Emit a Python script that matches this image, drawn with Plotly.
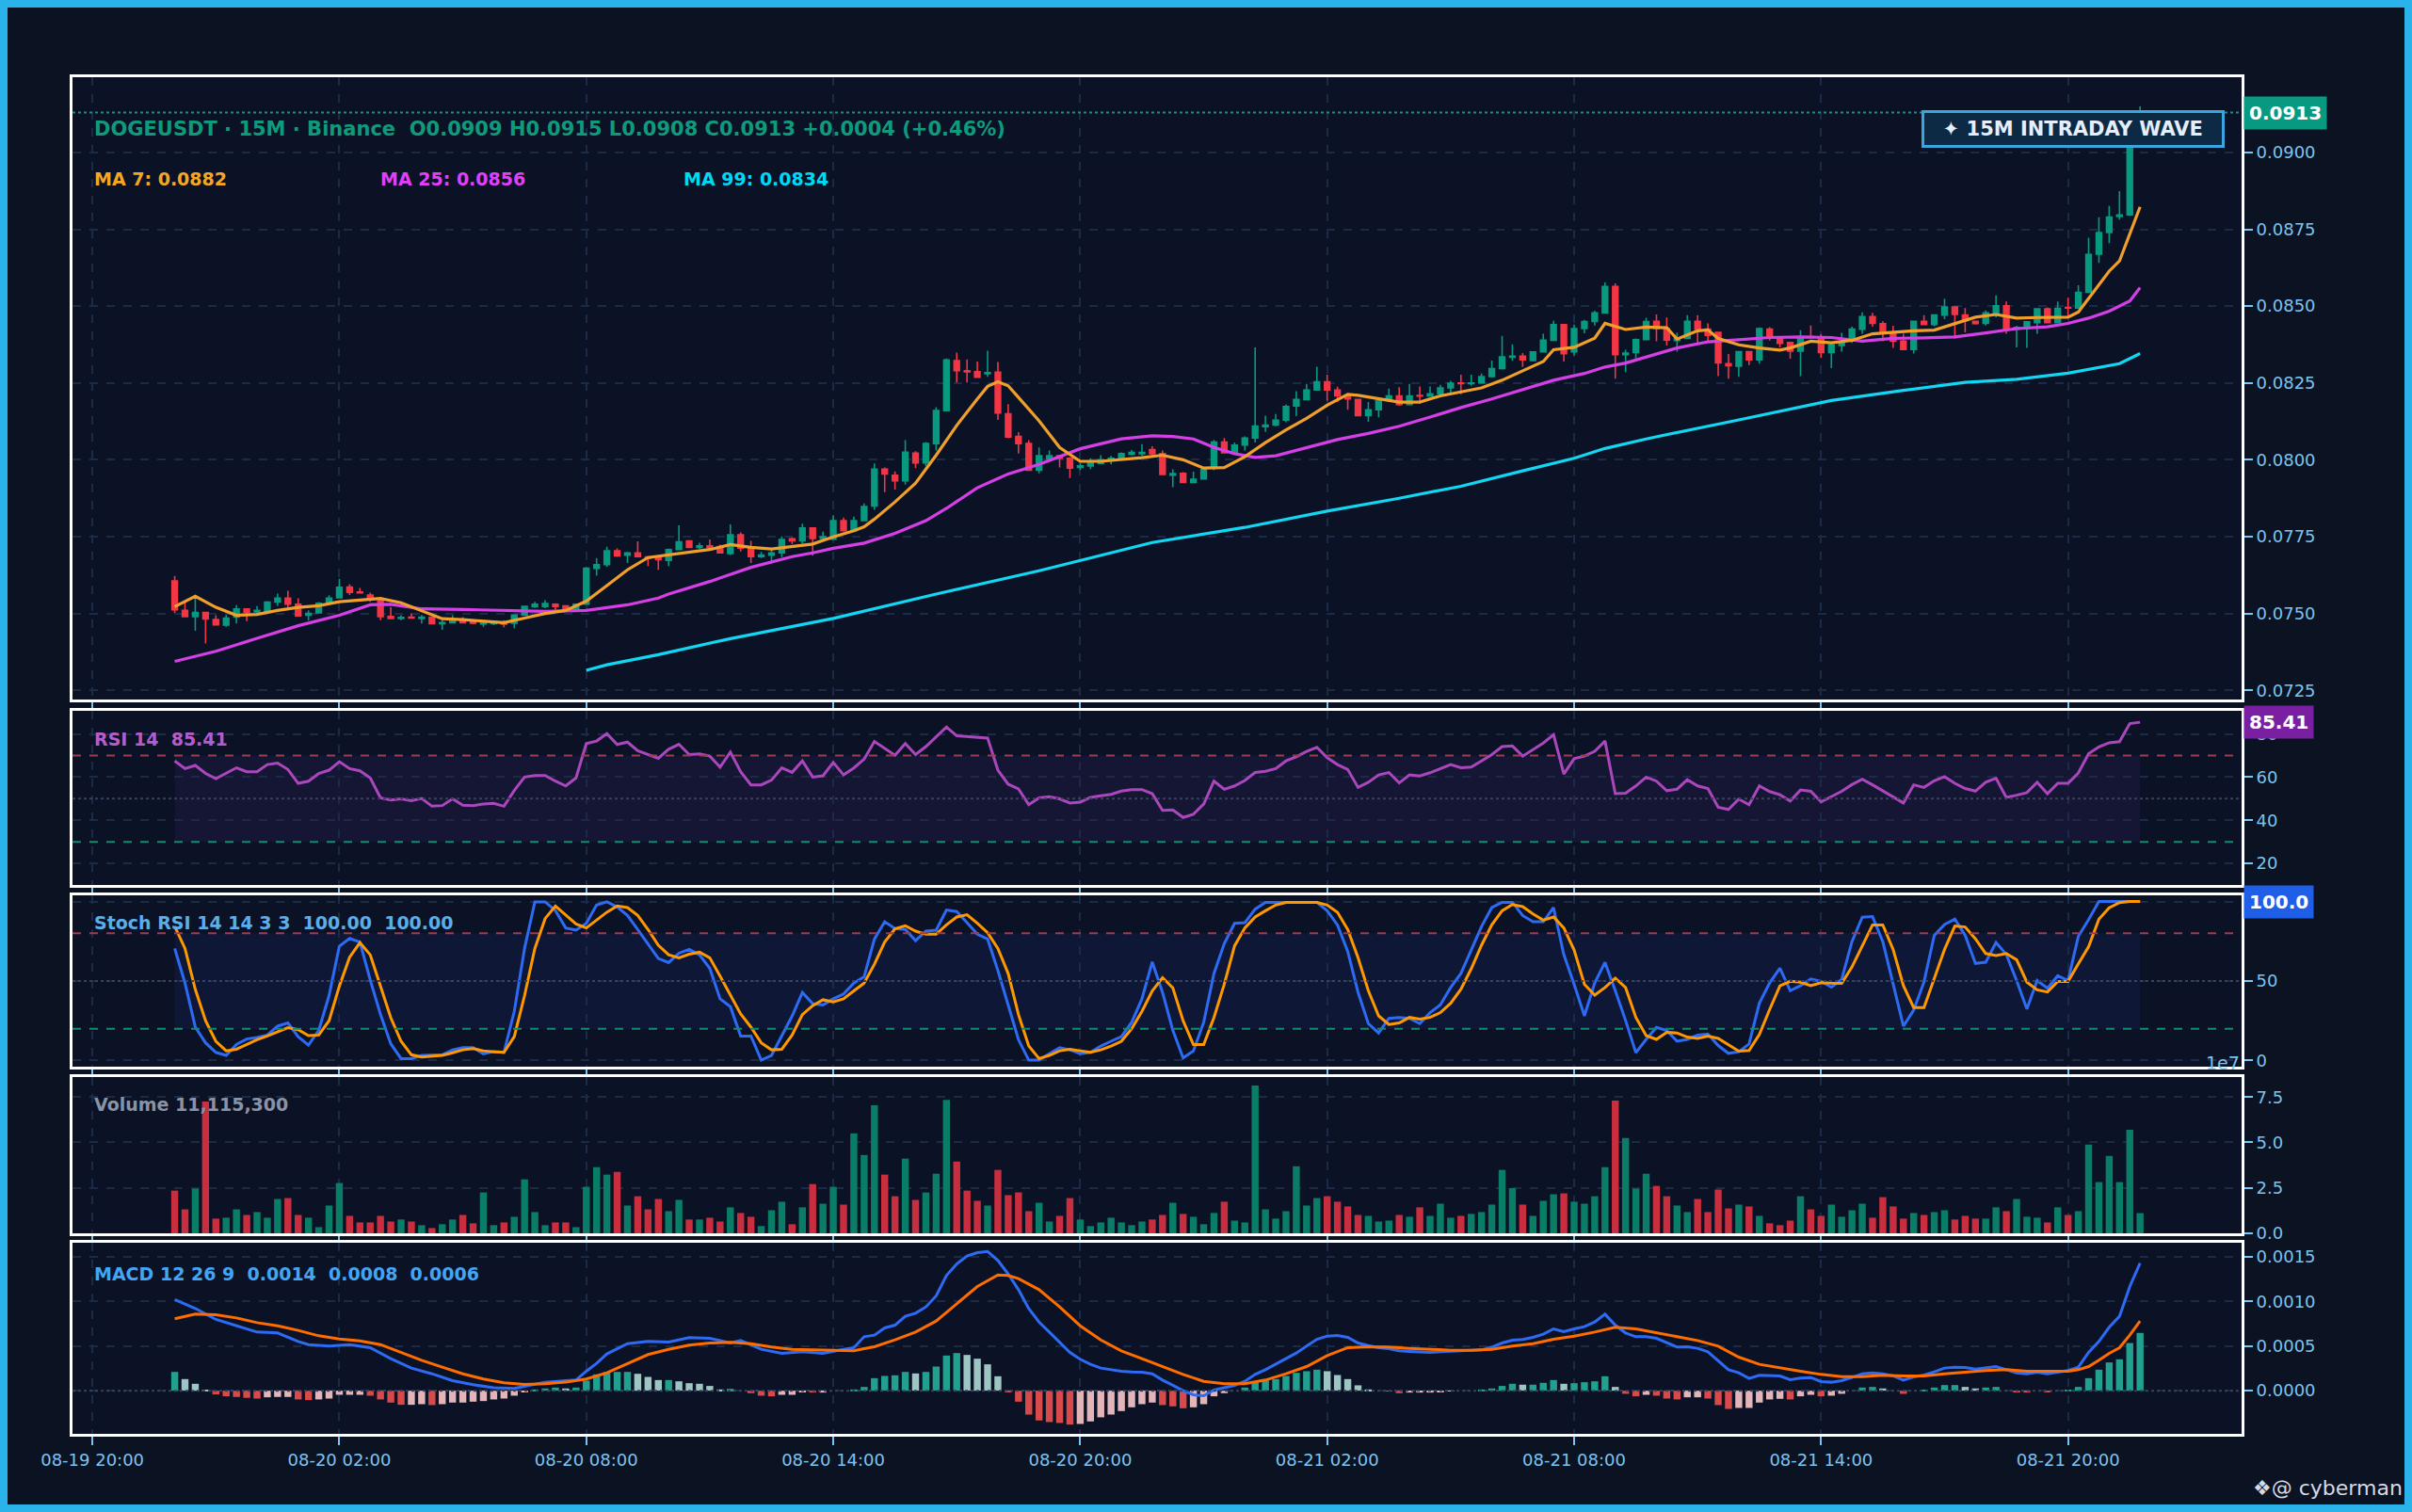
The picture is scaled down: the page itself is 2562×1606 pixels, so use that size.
import pandas as pd
import plotly.graph_objects as go
from plotly.subplots import make_subplots

# ---------------- data ----------------
start_time = "2024-08-19 22:00"
n_candles = 192
times = pd.date_range(start_time, periods=n_candles, freq="15min")

opens = [0.07606,0.07510,0.07490,0.07503,0.07480,0.07462,0.07488,0.07515,0.07505,0.07507,
 0.07537,0.07550,0.07530,0.07494,0.07502,0.07535,0.07551,0.07586,0.07570,0.07560,
 0.07545,0.07490,0.07484,0.07488,0.07484,0.07488,0.07467,0.07470,0.07480,0.07473,
 0.07466,0.07467,0.07472,0.07468,0.07495,0.07522,0.07523,0.07530,0.07525,0.07514,
 0.07530,0.07647,0.07659,0.07704,0.07690,0.07697,0.07684,0.07680,0.07673,0.07708,
 0.07736,0.07715,0.07720,0.07718,0.07695,0.07756,0.07713,0.07685,0.07690,0.07697,
 0.07743,0.07736,0.07778,0.07744,0.07742,0.07802,0.07769,0.07802,0.07850,0.07970,
 0.07950,0.07932,0.08022,0.07990,0.08053,0.08160,0.08323,0.08290,0.08287,0.08280,
 0.08285,0.08150,0.08076,0.08053,0.07966,0.08003,0.08013,0.08005,0.07975,0.07980,
 0.07988,0.08000,0.08005,0.08018,0.08020,0.08033,0.08020,0.07950,0.07956,0.07926,
 0.07938,0.07975,0.08058,0.08023,0.08048,0.08071,0.08108,0.08113,0.08129,0.08175,
 0.08196,0.08227,0.08254,0.08227,0.08208,0.08196,0.08144,0.08163,0.08193,0.08208,
 0.08180,0.08209,0.08207,0.08215,0.08234,0.08250,0.08248,0.08250,0.08271,0.08297,
 0.08334,0.08337,0.08323,0.08351,0.08389,0.08440,0.08351,0.08427,0.08450,0.08478,
 0.08564,0.08342,0.08349,0.08391,0.08451,0.08427,0.08388,0.08395,0.08451,0.08425,
 0.08415,0.08313,0.08305,0.08352,0.08325,0.08425,0.08400,0.08382,0.08354,0.08401,
 0.08398,0.08349,0.08372,0.08395,0.08425,0.08466,0.08443,0.08415,0.08386,0.08359,
 0.08451,0.08440,0.08471,0.08497,0.08471,0.08451,0.08444,0.08476,0.08501,0.08425,
 0.08429,0.08446,0.08491,0.08446,0.08496,0.08494,0.08545,0.08669,0.08740,0.08792,
 0.08797,0.09090]
highs = [0.07622,0.07540,0.07548,0.07505,0.07494,0.07495,0.07527,0.07516,0.07524,0.07540,
 0.07565,0.07574,0.07549,0.07510,0.07537,0.07559,0.07613,0.07595,0.07583,0.07568,
 0.07550,0.07520,0.07494,0.07500,0.07495,0.07490,0.07480,0.07494,0.07488,0.07480,
 0.07472,0.07473,0.07478,0.07497,0.07525,0.07538,0.07543,0.07533,0.07527,0.07532,
 0.07651,0.07680,0.07717,0.07712,0.07700,0.07735,0.07686,0.07682,0.07711,0.07787,
 0.07738,0.07730,0.07741,0.07724,0.07790,0.07764,0.07736,0.07700,0.07708,0.07751,
 0.07748,0.07792,0.07780,0.07766,0.07820,0.07812,0.07815,0.07858,0.07988,0.07975,
 0.07962,0.08064,0.08028,0.08058,0.08171,0.08330,0.08349,0.08327,0.08320,0.08355,
 0.08318,0.08181,0.08090,0.08064,0.08040,0.08030,0.08015,0.08008,0.07990,0.08005,
 0.08015,0.08013,0.08024,0.08032,0.08051,0.08044,0.08030,0.07969,0.07960,0.07961,
 0.07970,0.08065,0.08071,0.08056,0.08076,0.08366,0.08144,0.08149,0.08180,0.08223,
 0.08247,0.08303,0.08277,0.08238,0.08210,0.08198,0.08188,0.08196,0.08232,0.08236,
 0.08247,0.08239,0.08239,0.08244,0.08257,0.08277,0.08277,0.08281,0.08323,0.08403,
 0.08376,0.08347,0.08353,0.08410,0.08452,0.08442,0.08440,0.08455,0.08485,0.08577,
 0.08574,0.08358,0.08395,0.08462,0.08473,0.08463,0.08413,0.08471,0.08471,0.08444,
 0.08417,0.08344,0.08354,0.08354,0.08431,0.08432,0.08401,0.08384,0.08422,0.08437,
 0.08409,0.08377,0.08413,0.08433,0.08480,0.08478,0.08451,0.08436,0.08410,0.08453,
 0.08471,0.08474,0.08524,0.08499,0.08494,0.08453,0.08486,0.08535,0.08515,0.08436,
 0.08451,0.08494,0.08496,0.08515,0.08527,0.08568,0.08723,0.08789,0.08826,0.08874,
 0.09100,0.09150]
lows = [0.07502,0.07488,0.07444,0.07402,0.07462,0.07457,0.07467,0.07475,0.07495,0.07500,
 0.07525,0.07520,0.07490,0.07477,0.07500,0.07533,0.07549,0.07560,0.07566,0.07538,
 0.07478,0.07482,0.07478,0.07484,0.07467,0.07466,0.07447,0.07468,0.07468,0.07465,
 0.07457,0.07462,0.07455,0.07452,0.07493,0.07518,0.07517,0.07510,0.07511,0.07512,
 0.07528,0.07623,0.07652,0.07684,0.07664,0.07684,0.07654,0.07642,0.07654,0.07706,
 0.07713,0.07710,0.07712,0.07695,0.07690,0.07702,0.07664,0.07680,0.07662,0.07683,
 0.07726,0.07726,0.07688,0.07740,0.07740,0.07767,0.07765,0.07800,0.07837,0.07895,
 0.07903,0.07919,0.07973,0.07980,0.08030,0.08158,0.08252,0.08252,0.08267,0.08270,
 0.08130,0.08070,0.08020,0.07964,0.07956,0.08000,0.07975,0.07941,0.07967,0.07970,
 0.07986,0.07985,0.08003,0.08014,0.08013,0.08008,0.07950,0.07911,0.07924,0.07924,
 0.07936,0.07966,0.08020,0.08020,0.08030,0.08056,0.08091,0.08109,0.08122,0.08142,
 0.08194,0.08225,0.08193,0.08188,0.08163,0.08142,0.08124,0.08138,0.08190,0.08176,
 0.08178,0.08183,0.08205,0.08212,0.08218,0.08213,0.08241,0.08248,0.08268,0.08294,
 0.08322,0.08302,0.08320,0.08349,0.08387,0.08320,0.08340,0.08412,0.08437,0.08476,
 0.08264,0.08285,0.08330,0.08389,0.08386,0.08372,0.08352,0.08393,0.08380,0.08382,
 0.08272,0.08264,0.08270,0.08308,0.08313,0.08388,0.08366,0.08329,0.08272,0.08395,
 0.08331,0.08298,0.08352,0.08380,0.08410,0.08433,0.08386,0.08364,0.08357,0.08346,
 0.08438,0.08435,0.08458,0.08395,0.08415,0.08440,0.08437,0.08464,0.08410,0.08366,
 0.08364,0.08410,0.08444,0.08444,0.08466,0.08492,0.08543,0.08641,0.08705,0.08782,
 0.08794,0.09080]
closes = [0.07512,0.07490,0.07503,0.07482,0.07463,0.07485,0.07515,0.07504,0.07510,0.07537,
 0.07550,0.07530,0.07492,0.07500,0.07533,0.07550,0.07585,0.07569,0.07567,0.07545,
 0.07490,0.07484,0.07487,0.07485,0.07488,0.07467,0.07470,0.07480,0.07470,0.07468,
 0.07470,0.07470,0.07465,0.07495,0.07523,0.07530,0.07532,0.07523,0.07513,0.07530,
 0.07647,0.07659,0.07704,0.07687,0.07697,0.07685,0.07680,0.07675,0.07708,0.07733,
 0.07715,0.07720,0.07715,0.07697,0.07756,0.07713,0.07685,0.07690,0.07697,0.07741,
 0.07736,0.07778,0.07744,0.07750,0.07802,0.07769,0.07802,0.07848,0.07970,0.07954,
 0.07932,0.08025,0.07990,0.08053,0.08160,0.08325,0.08290,0.08286,0.08269,0.08284,
 0.08152,0.08074,0.08053,0.07966,0.08013,0.08013,0.08005,0.07973,0.07980,0.07990,
 0.08000,0.08005,0.08020,0.08024,0.08024,0.08020,0.07952,0.07955,0.07926,0.07937,
 0.07968,0.08058,0.08023,0.08048,0.08071,0.08110,0.08113,0.08129,0.08173,0.08196,
 0.08227,0.08254,0.08227,0.08208,0.08198,0.08144,0.08163,0.08193,0.08208,0.08180,
 0.08208,0.08207,0.08215,0.08234,0.08249,0.08248,0.08250,0.08271,0.08297,0.08335,
 0.08337,0.08325,0.08351,0.08389,0.08440,0.08345,0.08427,0.08450,0.08478,0.08564,
 0.08342,0.08347,0.08391,0.08450,0.08427,0.08390,0.08395,0.08451,0.08425,0.08405,
 0.08315,0.08306,0.08352,0.08325,0.08427,0.08403,0.08379,0.08354,0.08400,0.08398,
 0.08349,0.08374,0.08381,0.08425,0.08466,0.08444,0.08415,0.08386,0.08359,0.08451,
 0.08440,0.08471,0.08497,0.08473,0.08453,0.08443,0.08478,0.08501,0.08425,0.08431,
 0.08449,0.08491,0.08446,0.08493,0.08494,0.08545,0.08668,0.08739,0.08790,0.08797,
 0.09090,0.09130]

ma7_idx = [0,2,4,6,8,10,12,14,16,18,20,22,24,26,28,30,32,34,36,38,40,42,44,46,48,50,52,54,56,58,
 60,62,64,66,67,68,70,72,74,76,78,79,80,81,82,84,86,88,90,92,94,96,98,100,102,104,106,108,110,112,
 114,115,117,119,121,123,125,127,129,131,133,134,136,138,139,141,143,145,146,148,149,150,152,154,156,157,159,161,163,165,
 167,169,171,173,175,177,179,181,183,184,185,186,187,188,189,190,191]
ma7_val = [0.07522,0.07556,0.07520,0.07494,0.07497,0.07510,0.07520,0.07525,0.07538,0.07543,0.07549,0.07535,0.07510,0.07483,0.07480,0.07474,0.07470,0.07485,0.07500,0.07510,0.07540,0.07591,0.07642,0.07682,0.07690,0.07700,0.07708,0.07724,0.07715,0.07710,
 0.07718,0.07726,0.07749,0.07769,0.07782,0.07807,0.07863,0.07924,0.08015,0.08112,0.08198,0.08239,0.08254,0.08241,0.08203,0.08127,0.08040,0.07995,0.07995,0.08000,0.08007,0.08015,0.08000,0.07973,0.07975,0.08010,0.08056,0.08097,0.08135,0.08178,
 0.08213,0.08210,0.08198,0.08188,0.08188,0.08208,0.08221,0.08234,0.08259,0.08290,0.08320,0.08358,0.08366,0.08396,0.08444,0.08424,0.08432,0.08430,0.08393,0.08420,0.08423,0.08395,0.08374,0.08364,0.08357,0.08364,0.08386,0.08381,0.08389,0.08410,
 0.08415,0.08420,0.08422,0.08444,0.08464,0.08473,0.08461,0.08463,0.08464,0.08464,0.08481,0.08525,0.08571,0.08614,0.08647,0.08736,0.08823]
ma25_idx = [0,4,8,12,16,19,21,24,28,32,36,40,44,47,48,52,56,60,62,64,67,70,73,75,78,81,84,88,92,95,
 97,99,101,103,105,107,110,113,116,119,122,125,128,131,134,137,139,141,143,146,149,152,155,158,161,164,167,170,173,176,
 179,182,184,186,188,190,191]
ma25_val = [0.07344,0.07377,0.07419,0.07460,0.07494,0.07528,0.07530,0.07515,0.07513,0.07510,0.07507,0.07510,0.07528,0.07550,0.07563,0.07604,0.07650,0.07685,0.07697,0.07712,0.07729,0.07761,0.07802,0.07842,0.07909,0.07954,0.07985,0.08036,0.08068,0.08078,
 0.08076,0.08068,0.08040,0.08020,0.08008,0.08013,0.08040,0.08066,0.08086,0.08109,0.08139,0.08170,0.08198,0.08229,0.08259,0.08281,0.08302,0.08315,0.08335,0.08364,0.08384,0.08390,0.08398,0.08400,0.08398,0.08386,0.08395,0.08397,0.08400,0.08413,
 0.08427,0.08433,0.08444,0.08461,0.08484,0.08517,0.08560]
ma99_idx = [40,42,47,54,64,74,84,95,104,112,119,125,131,136,139,143,152,161,168,174,179,184,189,191]
ma99_val = [0.07315,0.07333,0.07366,0.07418,0.07484,0.07563,0.07639,0.07731,0.07780,0.07833,0.07875,0.07914,0.07964,0.08005,0.08037,0.08068,0.08130,0.08193,0.08226,0.08252,0.08262,0.08282,0.08313,0.08346]

rsi = [67.5,63.9,65.4,61.7,59.3,61.7,64.3,62.5,62.5,65.8,
 66.5,63.5,57.1,58.1,61.7,63.2,67.1,63.9,62.9,59.6,
 50.4,49.4,49.9,49.1,50.1,46.5,46.8,49.9,47.0,46.8,
 47.5,47.8,46.5,53.8,60.0,60.7,60.7,58.1,55.9,59.6,
 75.5,76.7,80.1,75.1,76.2,72.2,70.4,68.7,72.9,75.2,
 70.4,70.7,69.7,64.6,71.6,62.5,56.4,56.4,58.6,64.3,
 62.2,67.5,60.0,60.6,66.8,61.0,64.2,68.3,76.5,73.3,
 70.1,75.5,70.4,74.1,78.8,83.2,79.1,78.8,78.4,78.1,
 63.2,56.7,54.5,47.2,50.4,50.9,49.9,48.0,48.4,50.6,
 51.3,52.0,53.5,54.2,54.2,52.3,44.6,44.8,41.3,42.8,
 47.5,58.1,54.3,55.9,58.4,62.1,62.7,63.9,67.5,69.4,
 71.9,73.8,69.0,65.8,63.5,55.2,57.6,61.0,62.1,57.3,
 61.0,60.5,62.0,63.9,65.8,64.3,64.6,67.5,70.4,74.1,
 74.4,69.7,72.6,75.8,79.6,61.4,68.5,69.7,71.9,76.7,
 52.3,52.5,55.9,60.0,58.1,53.7,54.4,58.8,55.9,54.7,
 46.0,45.0,49.8,47.2,55.9,53.3,51.8,48.9,54.0,53.4,
 48.5,51.0,53.4,56.5,59.0,56.4,53.5,50.6,48.0,56.4,
 55.2,58.3,60.2,57.1,54.7,53.5,57.6,59.5,50.6,51.6,
 52.8,57.6,52.3,57.1,57.1,61.9,70.8,74.0,75.9,76.4,
 84.8,85.41]

stoch_k = [70.5,48.7,21.0,11.1,5.1,3.2,10.1,13.5,14.5,16.0,
 21.6,23.6,15.0,9.7,19.0,40.8,71.9,76.8,74.5,50.7,
 28.9,10.5,1.2,1.2,3.2,3.2,3.6,6.7,8.1,8.1,
 4.2,5.7,5.1,30.9,70.5,99.8,99.8,94.3,83.4,82.0,
 86.3,97.8,99.8,96.6,91.3,82.4,73.5,64.2,61.6,67.5,
 69.9,66.5,58.0,38.8,33.9,15.4,15.4,0.2,3.2,16.0,
 27.9,42.8,35.8,34.9,38.8,41.8,48.7,52.7,76.4,87.3,
 83.0,82.4,75.4,81.4,82.0,94.7,93.7,86.7,79.4,76.4,
 56.6,34.9,13.1,0.2,0.2,4.2,8.1,6.7,4.2,5.1,
 9.1,12.1,15.0,24.0,38.8,62.0,42.8,19.0,1.6,6.0,
 24.0,54.8,73.5,86.3,86.7,95.2,99.5,99.5,99.5,99.5,
 99.5,99.5,94.2,85.3,68.6,42.9,23.2,17.3,26.5,27.1,
 26.5,23.2,30.1,35.0,45.9,54.8,69.5,84.3,96.2,99.5,
 99.5,91.2,87.3,87.3,96.2,66.6,47.9,28.1,48.8,61.7,
 43.9,25.2,4.9,13.3,20.8,18.9,12.1,13.3,15.9,16.7,
 9.4,4.5,5.5,10.4,36.0,48.8,58.1,43.9,47.1,51.3,
 49.7,46.1,51.0,74.8,90.2,90.5,74.8,48.7,21.6,31.7,
 49.3,78.8,85.6,88.9,78.8,61.1,61.8,74.2,66.7,50.3,
 32.4,50.3,45.4,53.3,50.3,78.1,88.6,100.0,100.0,100.0,
 100.0,100.0]
stoch_d = [84.4,70.5,44.8,25.0,12.1,6.1,7.1,10.1,13.1,15.4,
 18.0,20.6,19.4,15.6,16.0,25.0,46.7,65.0,74.1,66.5,
 46.7,26.9,12.1,3.6,2.2,2.6,3.2,4.8,6.7,7.5,
 6.1,5.5,5.1,15.0,40.8,70.5,89.3,97.2,91.3,85.9,
 83.4,88.3,93.3,97.2,96.2,91.3,82.4,72.5,66.5,64.6,
 66.9,68.1,64.6,53.1,40.8,29.3,21.0,11.1,6.7,7.1,
 16.0,28.9,34.5,38.2,36.8,38.8,43.8,48.7,60.6,74.5,
 82.8,84.8,81.4,79.4,79.4,85.3,90.3,91.7,86.3,80.4,
 70.5,54.7,28.9,9.1,1.2,3.2,6.1,7.1,6.1,5.1,
 6.7,9.1,12.1,20.0,30.9,43.8,52.1,45.7,25.0,10.0,
 10.0,27.1,48.0,72.1,83.4,90.3,94.2,97.8,99.5,99.5,
 99.5,99.5,97.8,93.2,82.4,64.6,43.9,28.1,22.6,23.6,
 27.1,26.0,27.1,30.1,36.0,44.9,57.7,72.5,85.3,94.2,
 98.1,96.8,92.2,88.3,90.3,83.4,69.5,47.9,41.1,45.9,
 51.8,45.9,27.1,15.7,13.3,17.7,17.3,14.7,13.9,15.3,
 13.9,9.8,5.9,6.3,16.3,32.1,46.9,49.8,49.2,47.1,
 49.0,48.6,48.5,58.8,71.6,85.3,85.3,69.9,47.1,33.3,
 33.3,52.0,69.9,84.6,84.0,76.5,67.3,66.0,67.3,63.4,
 49.3,44.4,43.1,49.7,49.7,60.8,71.6,88.9,96.1,99.3,
 100.0,100.0]

# volume in units of 1e7
volume = [2.35,1.32,2.46,7.25,0.81,0.86,1.32,1.01,1.17,0.86,
 1.89,1.94,1.01,0.86,0.34,1.53,2.77,0.96,0.60,0.60,
 0.96,0.65,0.76,0.65,0.45,0.29,0.50,0.76,1.01,0.55,
 2.25,0.45,0.60,0.91,2.97,1.17,0.45,0.60,0.60,0.34,
 2.56,3.64,3.23,3.38,1.53,2.04,1.32,1.89,1.22,1.84,
 0.76,0.76,0.86,0.65,1.43,1.12,0.91,0.40,1.27,1.74,
 0.50,1.43,2.71,1.63,2.56,1.58,5.50,4.31,7.04,3.23,
 2.04,4.11,1.84,2.25,3.28,7.35,3.95,2.35,1.79,1.53,
 3.49,2.10,2.25,1.22,1.68,0.65,0.96,1.94,0.76,0.40,
 0.60,0.86,0.60,0.45,0.65,0.76,1.01,1.68,1.07,0.91,
 0.50,1.12,1.74,0.70,0.60,8.13,1.32,0.81,1.22,3.69,
 1.53,1.94,2.04,1.74,1.48,1.01,0.96,0.65,0.70,1.01,
 0.91,1.43,0.96,1.63,0.86,0.96,1.07,1.17,1.58,3.49,
 2.49,1.58,0.96,1.79,2.15,2.20,1.74,1.63,2.04,3.64,
 7.30,5.24,2.46,3.28,2.61,2.04,1.53,1.17,1.89,1.17,
 2.41,1.37,1.58,1.48,0.96,0.55,0.45,0.70,2.04,1.32,
 0.96,1.58,0.91,1.27,1.63,0.86,1.99,1.48,0.81,1.12,
 1.01,1.17,1.27,0.76,0.96,0.81,0.81,1.43,1.22,1.89,
 0.91,0.86,0.60,1.43,1.01,1.22,4.88,2.82,4.26,2.82,
 5.70,1.11153]

macd_idx = [0,2,4,6,8,10,12,13,15,17,19,21,23,25,27,29,31,33,34,36,38,39,40,41,42,44,46,48,50,52,
 54,55,57,59,61,63,65,66,67,68,69,70,71,72,73,74,75,76,77,78,79,80,81,82,83,84,85,86,87,88,
 89,90,91,92,93,94,95,96,97,98,99,100,101,102,103,104,105,106,107,108,109,110,111,112,113,114,115,116,117,118,
 119,120,121,122,123,124,125,126,127,128,129,130,131,132,133,134,135,136,137,138,139,140,141,142,143,144,145,146,147,148,
 149,150,151,152,153,154,155,156,157,158,159,160,161,162,163,164,165,166,167,168,169,170,171,172,173,174,175,176,177,178,
 179,180,181,182,183,184,185,186,187,188,189,190,191]
macd_val = [0.001018,0.00092,0.000797,0.000726,0.000656,0.000646,0.000551,0.000516,0.000498,0.000516,0.000481,0.000358,0.000253,0.000189,0.000112,0.000067,0.000032,0.000025,0.000049,0.000095,0.000112,0.000119,0.000218,0.000305,0.000411,0.000526,0.000551,0.000544,0.000593,0.000586,
 0.000533,0.000561,0.000463,0.000418,0.000435,0.000418,0.000463,0.000481,0.000604,0.000621,0.000702,0.000733,0.000832,0.000867,0.000937,0.00106,0.001288,0.001418,0.001506,0.001544,0.001558,0.001456,0.001305,0.00113,0.000919,0.000768,0.000656,0.00054,0.000428,0.000351,
 0.000295,0.000253,0.000232,0.000218,0.00021,0.000207,0.000189,0.000119,0.00006,0.0,-0.000046,-0.000056,0.000007,0.000035,0.00006,0.000105,0.000182,0.000235,0.000295,0.000358,0.000421,0.000498,0.000575,0.000611,0.000618,0.000597,0.000533,0.000505,0.000481,0.00047,
 0.000446,0.000439,0.000432,0.000428,0.000435,0.000439,0.000446,0.000446,0.000456,0.000488,0.000533,0.000565,0.000572,0.000597,0.000632,0.000691,0.00066,0.000692,0.000716,0.000768,0.000856,0.000733,0.000646,0.000604,0.000604,0.000586,0.000533,0.000488,0.000491,0.000474,
 0.000435,0.00033,0.000235,0.0002,0.000137,0.000172,0.000172,0.000165,0.000123,0.00014,0.000147,0.000102,0.000095,0.000112,0.000147,0.000189,0.0002,0.000189,0.000165,0.000119,0.000154,0.000175,0.00021,0.000253,0.000263,0.00026,0.000242,0.000253,0.00027,0.000235,
 0.0002,0.000189,0.000207,0.000189,0.000207,0.000225,0.000263,0.000428,0.000551,0.000709,0.000832,0.001165,0.001428]
signal_idx = [0,2,4,6,8,10,12,14,16,18,20,22,24,26,28,30,32,34,36,38,40,42,44,46,48,50,52,54,56,58,
 60,62,64,66,67,68,70,72,74,76,78,80,81,82,84,86,88,90,92,94,96,98,100,102,104,106,108,110,112,114,
 116,118,120,122,124,126,128,130,132,134,136,138,140,142,144,146,148,150,152,154,156,158,160,162,164,166,168,170,172,174,
 176,178,180,182,184,185,186,187,188,189,190,191]
signal_val = [0.000804,0.000856,0.000849,0.000814,0.000761,0.000726,0.000674,0.000614,0.000579,0.000558,0.000516,0.000428,0.00034,0.000263,0.000189,0.00013,0.000088,0.00007,0.000077,0.000095,0.00013,0.0002,0.000305,0.000404,0.000463,0.000509,0.000533,0.00054,0.000526,0.000488,
 0.000463,0.000456,0.000446,0.000446,0.00047,0.000491,0.000568,0.000656,0.000779,0.000972,0.001165,0.001295,0.001288,0.001253,0.00113,0.000937,0.000726,0.000568,0.000446,0.000358,0.00027,0.000182,0.000105,0.000077,0.000077,0.000119,0.000189,0.00027,0.000393,0.000481,
 0.000491,0.000488,0.000474,0.000463,0.000453,0.000453,0.000463,0.000498,0.000526,0.000575,0.00061,0.000656,0.000709,0.000691,0.000649,0.000604,0.000561,0.000498,0.000375,0.000295,0.000253,0.000218,0.000182,0.000158,0.000158,0.000172,0.000165,0.000165,0.000189,0.00021,
 0.000225,0.000235,0.000218,0.000218,0.000218,0.000235,0.00027,0.00034,0.000418,0.000481,0.000621,0.000779]
macd_hist = [0.00021,0.00013,0.000077,0.00001,-0.000042,-0.000063,-0.00007,-0.00008,-0.000088,-0.000074,
 -0.00007,-0.00007,-0.000098,-0.000105,-0.000098,-0.000088,-0.000046,-0.000046,-0.000046,-0.000056,
 -0.000098,-0.000133,-0.000158,-0.000158,-0.000151,-0.000161,-0.000151,-0.000133,-0.000133,-0.000123,
 -0.000116,-0.000098,-0.000088,-0.000056,-0.00001,0.000014,0.000025,0.000035,0.000025,0.000035,
 0.000112,0.000182,0.00021,0.00021,0.00021,0.000189,0.000154,0.000119,0.000119,0.000105,
 0.000084,0.000077,0.000053,0.000014,0.000021,0.0,-0.000028,-0.000056,-0.000063,-0.000046,
 -0.000046,-0.00001,-0.000021,-0.000021,0.0,0.0,0.000014,0.000042,0.00014,0.000165,
 0.000172,0.00021,0.000193,0.00021,0.00027,0.000393,0.000421,0.0004,0.000358,0.000295,
 0.000161,-0.00001,-0.000123,-0.000267,-0.000333,-0.000351,-0.000361,-0.000379,-0.000372,-0.000344,
 -0.000298,-0.000267,-0.000228,-0.000186,-0.000151,-0.000133,-0.000161,-0.000175,-0.000197,-0.000186,
 -0.000151,-0.000063,-0.000028,0.0,0.000035,0.000095,0.000119,0.00013,0.000165,0.0002,
 0.000218,0.000235,0.000218,0.000175,0.00013,0.00006,0.000014,0.0,-0.000007,-0.000028,
 -0.000021,-0.000021,-0.000021,-0.000014,-0.000004,0.0,0.0,0.000014,0.000025,0.000053,
 0.000077,0.000067,0.000067,0.000088,0.000119,0.000077,0.000084,0.000095,0.000105,0.000161,
 0.000042,-0.000035,-0.000063,-0.000046,-0.000056,-0.000088,-0.000098,-0.000074,-0.000074,-0.000088,
 -0.000161,-0.000204,-0.000193,-0.000193,-0.000133,-0.000098,-0.000091,-0.000098,-0.000063,-0.000046,
 -0.000063,-0.000056,-0.000035,0.0,0.000035,0.000042,0.000025,0.0,-0.000035,0.0,
 0.000007,0.000035,0.000063,0.000063,0.000042,0.000025,0.000035,0.000042,0.0,-0.00001,
 -0.000021,0.0,-0.00001,0.0,0.000007,0.000042,0.00014,0.000235,0.000316,0.000351,
 0.000533,0.000646]

price_ticks = [0.0725, 0.0750, 0.0775, 0.0800, 0.0825, 0.0850, 0.0875, 0.0900]
rsi_ticks = [20, 40, 60, 80]
stoch_ticks = [0, 50, 100]
vol_ticks = [0.0, 2.5, 5.0, 7.5]
macd_ticks = [0.0, 0.0005, 0.0010, 0.0015]
last_price = 0.0913

# ---------------- style ----------------
BG = "#0b1222"
PLOT_BG = "#0b1226"
GREEN = "#089981"
RED = "#f23645"
VOL_GREEN = "#0a7d67"
VOL_RED = "#c92e3e"
AXIS_TXT = "#7cc3ef"
GRID = "#1b2a47"
FONT = "DejaVu Sans"

W, H = 2562, 1606
ML, MR, MT, MB = 77, 181, 82, 83
PW, PH = W - ML - MR, H - MT - MB

def py(pix):  # figure pixel row -> paper y
    return (H - MB - pix) / PH

def px(pix):  # figure pixel column -> paper x
    return (pix - ML) / PW

domains = {
    1: [py(743), py(82)],
    2: [py(940), py(755)],
    3: [py(1133), py(951)],
    4: [py(1310), py(1144)],
    5: [py(1523), py(1320)],
}

fig = make_subplots(rows=5, cols=1, shared_xaxes=True, vertical_spacing=0.01)

# main candles
fig.add_trace(go.Candlestick(
    x=times, open=opens, high=highs, low=lows, close=closes,
    increasing=dict(line=dict(color=GREEN, width=1.6), fillcolor=GREEN),
    decreasing=dict(line=dict(color=RED, width=1.6), fillcolor=RED),
    whiskerwidth=0, showlegend=False, hoverinfo="skip"), row=1, col=1)

for idx, val, col in [(ma99_idx, ma99_val, "#12d6f2"),
                      (ma25_idx, ma25_val, "#d63fe6"),
                      (ma7_idx, ma7_val, "#f0a02a")]:
    fig.add_trace(go.Scatter(x=[times[i] for i in idx], y=val, mode="lines",
                             line=dict(color=col, width=3.2), showlegend=False,
                             hoverinfo="skip"), row=1, col=1)

# RSI
fig.add_trace(go.Scatter(x=times, y=rsi, mode="lines", line=dict(color="#ab47bc", width=3),
                         showlegend=False, hoverinfo="skip"), row=2, col=1)
# Stoch RSI
fig.add_trace(go.Scatter(x=times, y=stoch_k, mode="lines", line=dict(color="#2d6bf5", width=3),
                         showlegend=False, hoverinfo="skip"), row=3, col=1)
fig.add_trace(go.Scatter(x=times, y=stoch_d, mode="lines", line=dict(color="#ff9800", width=3),
                         showlegend=False, hoverinfo="skip"), row=3, col=1)

# Volume
vol_colors = [VOL_GREEN if c >= o else VOL_RED for o, c in zip(opens, closes)]
fig.add_trace(go.Bar(x=times, y=volume, marker=dict(color=vol_colors, line=dict(width=0)),
                     showlegend=False, hoverinfo="skip"), row=4, col=1)

# MACD
hist_colors = []
for i, v in enumerate(macd_hist):
    prev = macd_hist[i - 1] if i > 0 else v
    if v >= 0:
        hist_colors.append("#22a08f" if v >= prev else "#9dc6c3")
    else:
        hist_colors.append("#d84a4a" if v < prev else "#e3b4b8")
fig.add_trace(go.Bar(x=times, y=macd_hist, marker=dict(color=hist_colors, line=dict(width=0)),
                     showlegend=False, hoverinfo="skip"), row=5, col=1)
fig.add_trace(go.Scatter(x=[times[i] for i in macd_idx], y=macd_val, mode="lines",
                         line=dict(color="#2d6bf5", width=3), showlegend=False, hoverinfo="skip"), row=5, col=1)
fig.add_trace(go.Scatter(x=[times[i] for i in signal_idx], y=signal_val, mode="lines",
                         line=dict(color="#ff6d00", width=3), showlegend=False, hoverinfo="skip"), row=5, col=1)

x_range = ["2024-08-19 19:31", "2024-08-22 00:13"]

axis_common = dict(showline=True, mirror=True, linecolor="#ffffff", linewidth=3,
                   showgrid=True, gridcolor=GRID, griddash="dash", gridwidth=1.5,
                   ticks="outside", tickcolor=AXIS_TXT, ticklen=9, tickwidth=2,
                   tickfont=dict(family=FONT, size=18, color=AXIS_TXT), zeroline=False)

for r in range(1, 6):
    xa = "xaxis" if r == 1 else f"xaxis{r}"
    fig.layout[xa].update(range=x_range, tick0="2024-08-19 20:00", dtick=6 * 3600 * 1000,
                          tickformat="%m-%d %H:%M", showticklabels=(r == 5),
                          rangeslider=dict(visible=False), **axis_common)
    ya = "yaxis" if r == 1 else f"yaxis{r}"
    fig.layout[ya].update(domain=domains[r], side="right", **axis_common)

fig.layout.yaxis.update(range=[0.0722, 0.09245], tickvals=price_ticks, tickformat=".4f")
fig.layout.yaxis2.update(range=[10, 90.7], tickvals=rsi_ticks)
fig.layout.yaxis3.update(range=[-3.9, 103.9], tickvals=stoch_ticks)
fig.layout.yaxis4.update(range=[0, 8.6], tickvals=vol_ticks, tickformat=".1f")
fig.layout.yaxis5.update(range=[-0.000483, 0.001655], tickvals=macd_ticks, tickformat=".4f")

shapes = []
# shaded zones
shapes.append(dict(type="rect", xref="x2", yref="y2", x0=times[0], x1=times[-1], y0=30, y1=70,
                   fillcolor="rgba(120,50,200,0.09)", line=dict(width=0), layer="below"))
shapes.append(dict(type="rect", xref="x3", yref="y3", x0=times[0], x1=times[-1], y0=20, y1=80,
                   fillcolor="rgba(40,90,220,0.09)", line=dict(width=0), layer="below"))
# level lines
for yref, lvl, col, dash in [("y2", 70, "#a23a4e", "dash"), ("y2", 30, "#0c8f6a", "dash"),
                             ("y2", 50, "#39425c", "dot"),
                             ("y3", 80, "#a23a4e", "dash"), ("y3", 20, "#0c8f6a", "dash"),
                             ("y3", 50, "#39425c", "dot"),
                             ("y5", 0, "#39425c", "dot")]:
    shapes.append(dict(type="line", xref="paper", yref=yref, x0=0, x1=1, y0=lvl, y1=lvl,
                       line=dict(color=col, width=2, dash=dash)))
# last price line
shapes.append(dict(type="line", xref="paper", yref="y", x0=0, x1=1, y0=last_price, y1=last_price,
                   line=dict(color=GREEN, width=2, dash="dot")))
# outer frame
shapes.append(dict(type="rect", xref="paper", yref="paper",
                   x0=px(4), x1=px(W - 4), y0=py(H - 4), y1=py(4),
                   line=dict(color="#2ab3ea", width=8), fillcolor="rgba(0,0,0,0)"))

ann = []
def label(text, x, y, color, size=19, bold=True, **kw):
    t = f"<b>{text}</b>" if bold else text
    d = dict(text=t, x=x, y=y, xref="paper", yref="paper", xanchor="left", yanchor="middle",
             showarrow=False, font=dict(family=FONT, size=size, color=color))
    d.update(kw)
    ann.append(d)

NB = "\u00a0"
label(f"DOGEUSDT · 15M · Binance{NB}{NB}O0.0909 H0.0915 L0.0908 C0.0913 +0.0004 (+0.46%)",
      px(98), py(137), "#0f9a7c", size=21)
label("MA 7: 0.0882", px(98), py(190), "#f5a623")
label("MA 25: 0.0856", px(402), py(190), "#e040fb")
label("MA 99: 0.0834", px(724), py(190), "#00d8f5")
label(f"RSI 14{NB}{NB}85.41", px(98), py(785), "#b65ccb")
label(f"Stoch RSI 14 14 3 3{NB}{NB}100.00{NB}{NB}100.00", px(98), py(980), "#5aaee9")
label("Volume 11,115,300", px(98), py(1173), "#8a93a5")
label(f"MACD 12 26 9{NB}{NB}0.0014{NB}{NB}0.0008{NB}{NB}0.0006", px(98), py(1353), "#42a5f5")

# top-right badge
ann.append(dict(text=f"<b>{NB}{NB}✦ 15M INTRADAY WAVE{NB}{NB}</b>", x=px(2202), y=py(137),
                xref="paper", yref="paper",
                xanchor="center", yanchor="middle", showarrow=False,
                font=dict(family=FONT, size=21, color="#e4eefc"),
                bgcolor="#0d2a45", bordercolor="#3aa6e0", borderwidth=3, borderpad=5))

# right side value badges
for text, yref, yv, bg in [("0.0913", "y", last_price, GREEN),
                           ("85.41", "y2", 85.41, "#7b1fa2"),
                           ("100.0", "y3", 100, "#1f5fe8")]:
    ann.append(dict(text=f"<b>{text}</b>", x=1.0, y=yv, xref="paper", yref=yref, xanchor="left",
                    yanchor="middle", showarrow=False, xshift=2,
                    font=dict(family=FONT, size=20, color="#ffffff"),
                    bgcolor=bg, borderpad=5))

ann.append(dict(text="1e7", x=1.0, y=py(1129), xref="paper", yref="paper", xanchor="right",
                yanchor="middle", showarrow=False, font=dict(family=FONT, size=19, color=AXIS_TXT)))
ann.append(dict(text="❖@ cyberman", x=px(2554), y=py(1580), xref="paper", yref="paper",
                xanchor="right", yanchor="middle", showarrow=False,
                font=dict(family=FONT, size=22, color="#d6dae2")))

fig.update_layout(
    width=W, height=H, margin=dict(l=ML, r=MR, t=MT, b=MB),
    paper_bgcolor=BG, plot_bgcolor=PLOT_BG, showlegend=False, hovermode=False,
    bargap=0.32, boxgap=0.25, shapes=shapes, annotations=ann,
    font=dict(family=FONT, color=AXIS_TXT),
)

fig.write_html("out.html", config=dict(displayModeBar=False),
               post_script="document.body.style.margin='0px';")
